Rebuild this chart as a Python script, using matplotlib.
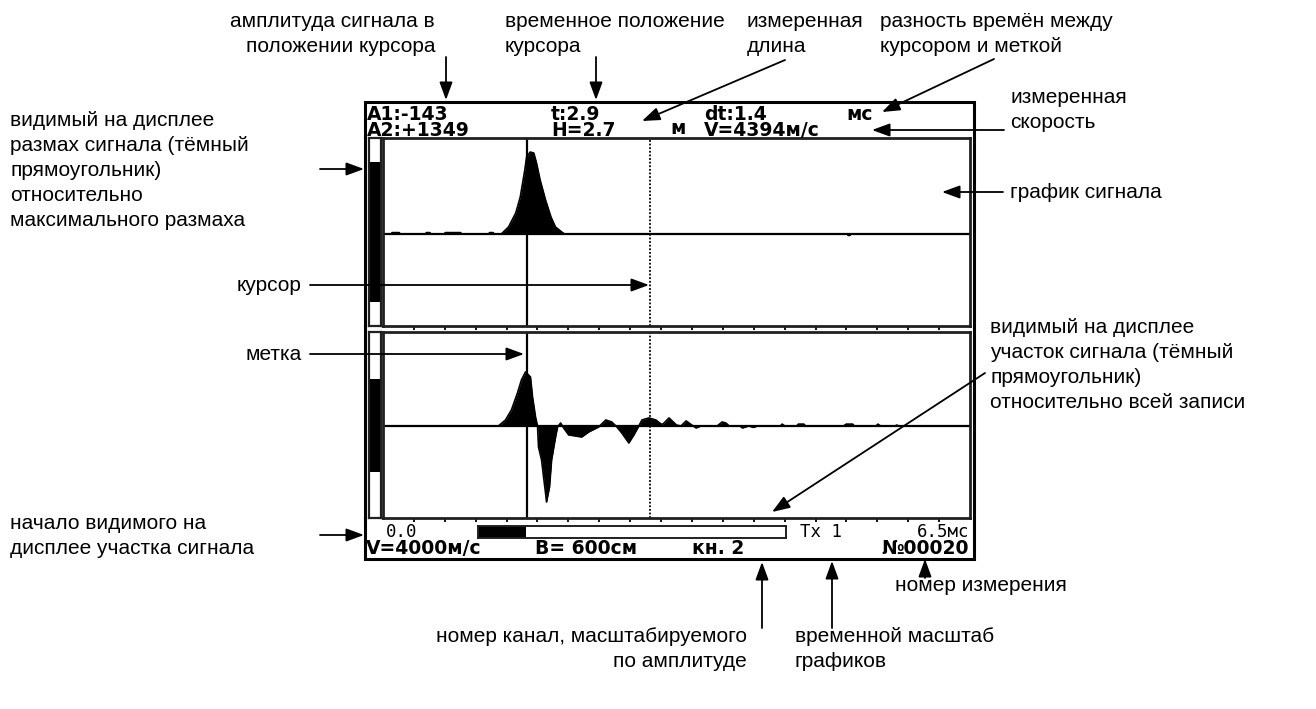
import numpy as np
import matplotlib.pyplot as plt
from matplotlib.patches import Rectangle

W, H = 1316, 709

# visible time window of the display, ms
t_min, t_max = 0.0, 6.5
t_marker = 1.59     # метка (solid line)
t_cursor = 2.96     # курсор (dotted line)
n_div = 19

# upper trace (channel 1), relative amplitude
t_ch1 = [0.0, 0.09, 0.10, 0.18, 0.19, 0.47, 0.48, 0.52, 0.53, 0.68, 0.69, 0.86, 0.87,
         1.17, 1.18, 1.22, 1.23, 1.31, 1.39, 1.47, 1.52, 1.57, 1.59, 1.63, 1.67, 1.70,
         1.74, 1.80, 1.86, 1.91, 1.98, 2.01, 5.14, 5.15, 5.17, 5.18, 6.5]
a_ch1 = [0.0, 0.0, 0.015, 0.015, 0.0, 0.0, 0.015, 0.015, 0.0, 0.0, 0.015, 0.015, 0.0,
         0.0, 0.015, 0.015, 0.0, 0.0, 0.075, 0.225, 0.396, 0.684, 0.823, 0.877, 0.866, 0.759,
         0.578, 0.364, 0.182, 0.075, 0.021, 0.0, 0.0, -0.015, -0.015, 0.0, 0.0]

# lower trace (channel 2), relative amplitude
t_ch2 = [0.0, 1.278, 1.356, 1.422, 1.489, 1.533, 1.578, 1.633, 1.656, 1.689, 1.711, 1.722,
         1.756, 1.778, 1.80, 1.811, 1.844, 1.867, 1.911, 1.933, 1.967, 2.0, 2.056, 2.133,
         2.2, 2.278, 2.389, 2.467, 2.533, 2.589, 2.644, 2.722, 2.778, 2.833, 2.867, 2.944,
         3.022, 3.078, 3.10, 3.167, 3.25, 3.30, 3.356, 3.42, 3.467, 3.52, 3.70, 3.756,
         3.80, 3.833, 3.95, 3.98, 4.05, 4.10, 4.15, 4.40, 4.42, 4.45, 4.58, 4.60, 4.66,
         4.68, 5.10, 5.13, 5.20, 5.22, 5.46, 5.48, 5.51, 5.67, 5.69, 5.71, 6.5]
a_ch2 = [0.0, 0.0, 0.064, 0.171, 0.353, 0.492, 0.578, 0.524, 0.31, 0.096, 0.0, -0.225,
         -0.364, -0.545, -0.717, -0.813, -0.652, -0.364, -0.118, -0.01, 0.032, -0.021, -0.096, -0.107,
         -0.118, -0.064, -0.01, 0.064, 0.043, -0.01, -0.075, -0.182, -0.096, 0.0, 0.064, 0.086,
         0.064, 0.021, 0.02, 0.086, 0.01, 0.0, 0.054, 0.01, -0.021, 0.0, 0.0, 0.043,
         0.03, 0.0, 0.0, -0.021, 0.0, -0.015, 0.0, 0.0, 0.02, 0.0, 0.0, 0.02, 0.02,
         0.0, 0.0, 0.02, 0.02, 0.0, 0.0, 0.02, 0.0, 0.0, 0.01, 0.0, 0.0]

# visible part of amplitude range (left bars) and of the record (scroll bar)
amp_span_ch1 = (0.13, 0.87)
amp_span_ch2 = (0.25, 0.75)
rec_span = (0.0, 0.156)

header_cols = ["A1:-143\nA2:+1349", "t:2.9\nH=2.7", "dt:1.4\nV=4394м/с"]
header_units = ["мс", "м"]
status_row = ["V=4000м/с", "В= 600см", "кн. 2", "№00020"]
scale_row = ["0.0", "Тх 1", "6.5мс"]

fig = plt.figure(figsize=(W / 100, H / 100), dpi=100)


def px_axes(x0, y0, x1, y1, z=1):
    return fig.add_axes([x0 / W, 1 - y1 / H, (x1 - x0) / W, (y1 - y0) / H], zorder=z)


def style_box(ax, lw=2.0):
    for s in ax.spines.values():
        s.set_linewidth(lw)
        s.set_color('#202020')


# signal panels
panels = [(px_axes(383, 138, 970, 326), t_ch1, a_ch1, (-0.984, 1.027)),
          (px_axes(383, 332, 970, 518), t_ch2, a_ch2, (-0.984, 1.005))]
for ax, tt, aa, yl in panels:
    ax.set_xlim(t_min, t_max)
    ax.set_ylim(*yl)
    ax.axhline(0, color='black', lw=1.6)
    ax.fill_between(tt, aa, 0, color='black', lw=0)
    ax.plot(tt, aa, color='black', lw=1.2)
    ax.axvline(t_marker, color='black', lw=1.6)
    ax.axvline(t_cursor, color='black', lw=1.3, ls=(0, (1, 1)))
    ax.set_xticks(np.linspace(t_min, t_max, n_div + 1)[1:-1])
    ax.set_yticks([])
    ax.tick_params(axis='x', direction='out', length=3, width=1.3, labelbottom=False)
    style_box(ax)

# amplitude range bars
for (y0, y1), span in [((138, 326), amp_span_ch1), ((332, 518), amp_span_ch2)]:
    b = px_axes(369, y0, 381, y1)
    b.set_xlim(0, 1)
    b.set_ylim(0, 1)
    b.bar(0.5, span[1] - span[0], bottom=span[0], width=1.0, color='black')
    b.set_xticks([])
    b.set_yticks([])
    style_box(b, 1.6)

# record scroll bar
sb = px_axes(478, 526, 786, 538)
sb.set_xlim(0, 1)
sb.set_ylim(0, 1)
sb.barh(0.5, rec_span[1] - rec_span[0], left=rec_span[0], height=1.0, color='black')
sb.set_xticks([])
sb.set_yticks([])
style_box(sb, 1.4)

# overlay for frame, texts, arrows
ov = fig.add_axes([0, 0, 1, 1], zorder=10)
ov.set_xlim(0, W)
ov.set_ylim(H, 0)
ov.axis('off')
ov.patch.set_alpha(0)

ov.add_patch(Rectangle((365, 102), 609, 457, fill=False, lw=2.2, ec='black'))

disp = dict(family='DejaVu Sans', weight='bold', fontsize=13.5, color='black')
for s, x in zip(header_cols, [367, 551, 704]):
    ov.text(x, 122.5, s, va='center', linespacing=0.76, **disp)
ov.text(846, 115, header_units[0], va='center', **disp)
ov.text(670, 129, header_units[1], va='center', **disp)
for s, x in zip(status_row[:3], [366, 535, 692]):
    ov.text(x, 549, s, va='center', **disp)
ov.text(969, 549, status_row[3], va='center', ha='right', **disp)

thin = dict(family='DejaVu Sans Mono', fontsize=12.5, va='center', color='black')
ov.text(386, 532, scale_row[0], **thin)
ov.text(800, 532, scale_row[1], **thin)
ov.text(969, 532, scale_row[2], ha='right', **thin)

note = dict(family='Liberation Sans', fontsize=15, va='top', color='black', linespacing=1.4)


def arrow(x0, y0, x1, y1):
    ov.annotate('', xy=(x1, y1), xytext=(x0, y0),
                arrowprops=dict(arrowstyle='-|>,head_length=0.6,head_width=0.22',
                                color='black', lw=1.3, shrinkA=0, shrinkB=0,
                                mutation_scale=18))


ov.text(435, 12, "амплитуда сигнала в\nположении курсора", ha='right', **note)
arrow(446, 57, 446, 100)
ov.text(505, 12, "временное положение\nкурсора", ha='left', **note)
arrow(596, 57, 596, 100)
ov.text(747, 12, "измеренная\nдлина", ha='left', **note)
arrow(785, 60, 642, 121)
ov.text(880, 12, "разность времён между\nкурсором и меткой", ha='left', **note)
arrow(994, 59, 882, 112)
ov.text(1010, 88, "измеренная\nскорость", ha='left', **note)
arrow(1004, 130, 872, 130)
ov.text(10, 111, "видимый на дисплее\nразмах сигнала (тёмный\nпрямоугольник)\n"
        "относительно\nмаксимального размаха", ha='left', **note)
arrow(320, 169, 364, 169)
ov.text(1010, 183, "график сигнала", ha='left', **note)
arrow(1003, 192, 942, 192)
ov.text(302, 276, "курсор", ha='right', **note)
arrow(310, 285, 649, 285)
ov.text(990, 318, "видимый на дисплее\nучасток сигнала (тёмный\nпрямоугольник)\n"
        "относительно всей записи", ha='left', **note)
arrow(985, 373, 772, 512)
ov.text(302, 345, "метка", ha='right', **note)
arrow(310, 354, 524, 354)
ov.text(10, 514, "начало видимого на\nдисплее участка сигнала", ha='left', **note)
arrow(320, 535, 364, 535)
ov.text(895, 576, "номер измерения", ha='left', **note)
arrow(925, 578, 925, 559)
ov.text(747, 627, "номер канал, масштабируемого\nпо амплитуде", ha='right', **note)
arrow(762, 628, 762, 562)
ov.text(795, 627, "временной масштаб\nграфиков", ha='left', **note)
arrow(832, 628, 832, 561)

fig.savefig('out.png', dpi=100)
